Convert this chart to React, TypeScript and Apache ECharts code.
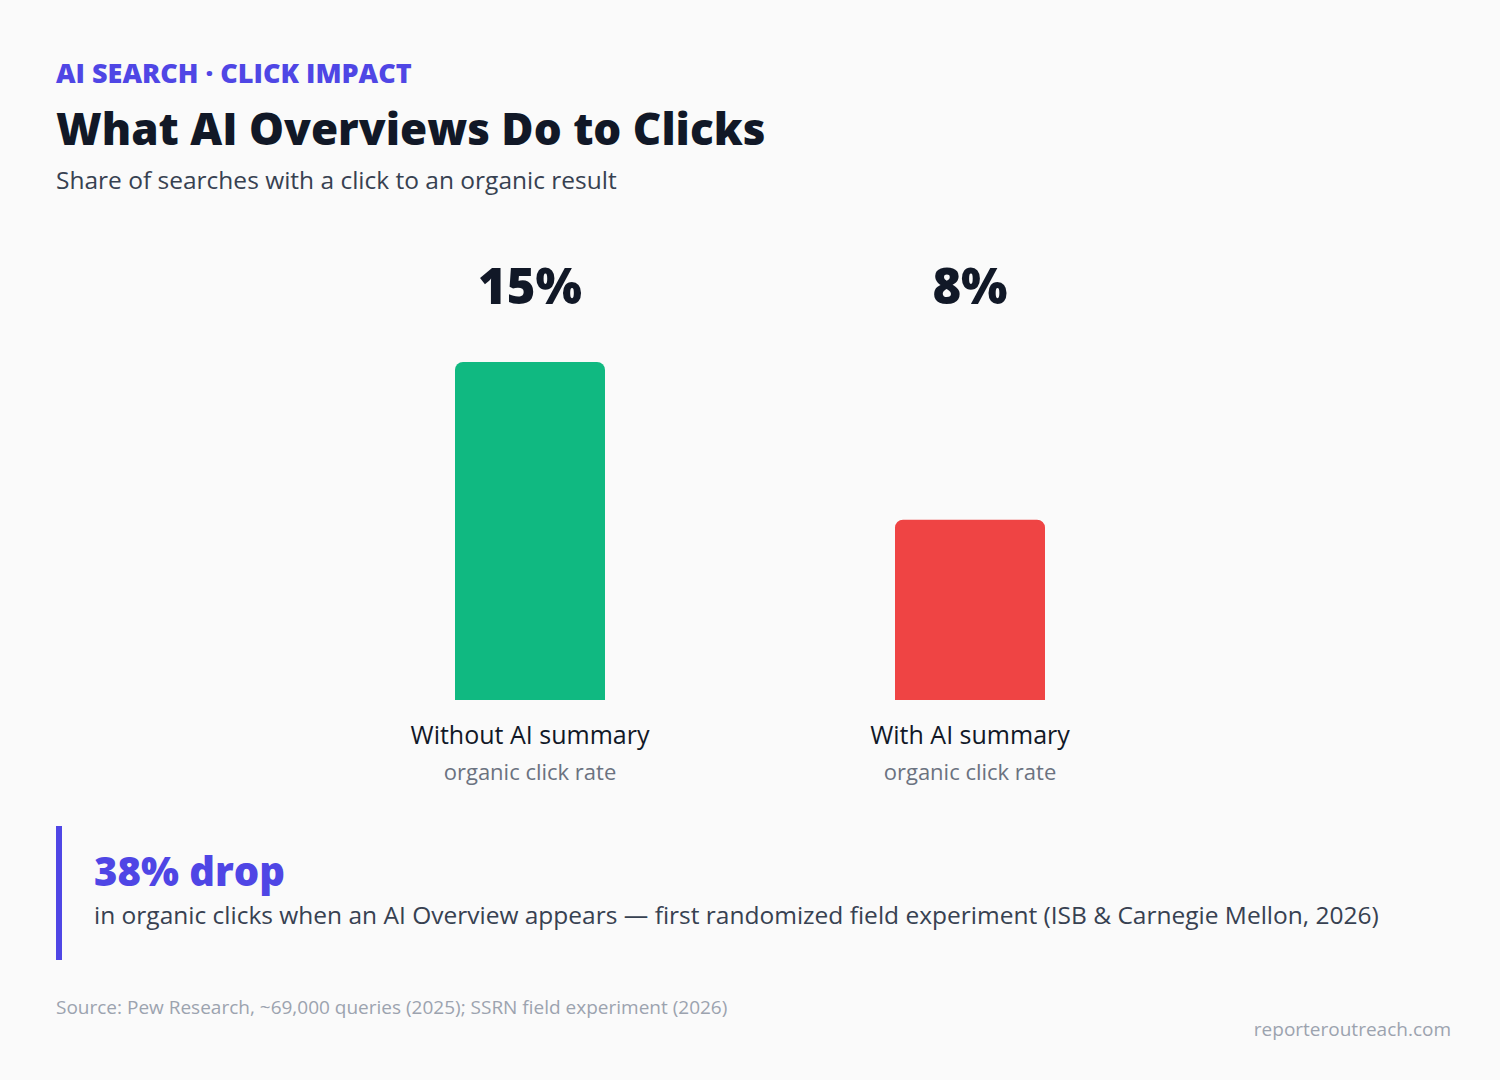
import React, { useEffect, useRef } from "react";
import * as echarts from "echarts";

// Chart content
const categories = ["Without AI summary", "With AI summary"];
const clickRates = [15, 8];
const barColors = ["#10b981", "#ef4444"];
const metricLabel = "organic click rate";
const dropPercent = 38;

const kicker = "AI SEARCH · CLICK IMPACT";
const title = "What AI Overviews Do to Clicks";
const subtitle = "Share of searches with a click to an organic result";
const calloutText =
  "in organic clicks when an AI Overview appears — first randomized field experiment (ISB & Carnegie Mellon, 2026)";
const sourceText = "Source: Pew Research, ~69,000 queries (2025); SSRN field experiment (2026)";
const brandText = "reporteroutreach.com";

const FONT = "'Open Sans', 'DejaVu Sans', sans-serif";
const INDIGO = "#4f46e5";
const INK = "#111827";

export default function App() {
  const ref = useRef<HTMLDivElement>(null);

  useEffect(() => {
    if (!ref.current) return;
    const chart = echarts.init(ref.current, null, { renderer: "svg" });

    chart.setOption({
      animation: false,
      backgroundColor: "#fafafa",
      textStyle: { fontFamily: FONT },
      grid: { left: 310, width: 880, top: 362, bottom: 380 },
      yAxis: { type: "value", min: 0, max: 15, show: false },
      xAxis: [
        {
          type: "category",
          data: categories,
          axisLine: { show: false },
          axisTick: { show: false },
          axisLabel: {
            margin: 16,
            formatter: (name: string) => `{a|${name}}\n{b|${metricLabel}}`,
            rich: {
              a: { fontFamily: FONT, fontSize: 25, fontWeight: 500, color: INK, lineHeight: 36 },
              b: { fontFamily: FONT, fontSize: 22, fontWeight: 400, color: "#6b7280", lineHeight: 38 },
            },
          },
        },
        {
          type: "category",
          position: "top",
          data: clickRates.map((v) => `${v}%`),
          axisLine: { show: false },
          axisTick: { show: false },
          axisLabel: {
            margin: 53,
            fontFamily: FONT,
            fontSize: 49,
            fontWeight: 800,
            color: INK,
          },
        },
      ],
      series: [
        {
          type: "bar",
          barWidth: 150,
          data: clickRates.map((v, i) => ({
            value: v,
            itemStyle: { color: barColors[i], borderRadius: [8, 8, 0, 0] },
          })),
        },
      ],
      graphic: [
        {
          type: "text",
          left: 56,
          top: 59,
          style: { text: kicker, fontFamily: FONT, fontSize: 27, fontWeight: 800, fill: INDIGO },
        },
        {
          type: "text",
          left: 56,
          top: 106,
          style: { text: title, fontFamily: FONT, fontSize: 44, fontWeight: 800, fill: INK },
        },
        {
          type: "text",
          left: 56,
          top: 167,
          style: { text: subtitle, fontFamily: FONT, fontSize: 24.5, fontWeight: 400, fill: "#374151" },
        },
        {
          type: "rect",
          shape: { x: 56, y: 826, width: 6, height: 134 },
          style: { fill: INDIGO },
        },
        {
          type: "text",
          left: 94,
          top: 850,
          style: {
            text: `${dropPercent}% drop`,
            fontFamily: FONT,
            fontSize: 40,
            fontWeight: 800,
            fill: INDIGO,
          },
        },
        {
          type: "text",
          left: 94,
          top: 902,
          style: { text: calloutText, fontFamily: FONT, fontSize: 24.5, fontWeight: 400, fill: "#374151" },
        },
        {
          type: "text",
          left: 56,
          top: 997,
          style: { text: sourceText, fontFamily: FONT, fontSize: 19, fill: "#9ca3af" },
        },
        {
          type: "text",
          right: 49,
          top: 1019,
          style: { text: brandText, fontFamily: FONT, fontSize: 19, fill: "#9ca3af" },
        },
      ],
    });

    return () => chart.dispose();
  }, []);

  return (
    <div
      ref={ref}
      style={{ position: "absolute", left: 0, top: 0, width: 1500, height: 1080 }}
    />
  );
}
